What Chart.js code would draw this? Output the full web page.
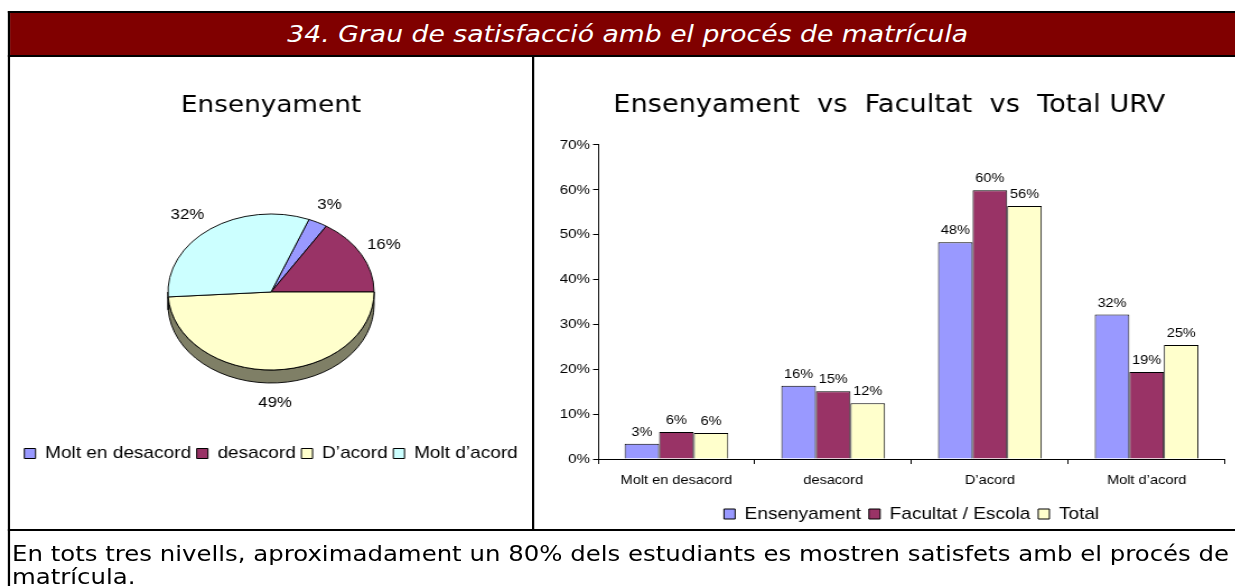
<!DOCTYPE html>
<html>
<head>
<meta charset="utf-8">
<script src="https://cdn.jsdelivr.net/npm/chart.js@4.4.1/dist/chart.umd.min.js"></script>
<style>
  html, body { margin: 0; padding: 0; background: #fff; overflow: hidden; }
  body { width: 1235px; height: 586px; position: relative; }
  /* the original picture is stretched horizontally, so the whole page is too */
  #page { position: absolute; left: 0; top: 0; width: 1103px; height: 586px; transform: scaleX(1.12); transform-origin: 0 0; }
  .line { position: absolute; background: #000; }
  #header { position: absolute; left: 8.9px; top: 13px; width: 1095px; height: 42px; background: #800000; }
  #headerText { position: absolute; left: 7px; width: 1107px; top: 20px; line-height: 42px; text-align: center; color: #fff;
    font: italic 23.8px "DejaVu Sans"; white-space: nowrap; }
  #note { position: absolute; left: 10.7px; top: 542px; font: 21.8px "DejaVu Sans"; line-height: 23px; white-space: nowrap; color: #000; }
  #pieBox { position: absolute; left: 9px; top: 57px; width: 466px; height: 472px; }
  #barBox { position: absolute; left: 477px; top: 57px; width: 626px; height: 490px; }
</style>
</head>
<body>
<div id="page">
  <div id="header"></div>
  <div id="headerText">34. Grau de satisfacció amb el procés de matrícula</div>
  <div class="line" style="left:7.14px; top:11px; width:1096px; height:2px;"></div>
  <div class="line" style="left:7.14px; top:55px; width:1096px; height:2px;"></div>
  <div class="line" style="left:7.14px; top:529px; width:1096px; height:2px;"></div>
  <div class="line" style="left:7.14px; top:11px; width:1.79px; height:575px;"></div>
  <div class="line" style="left:475px; top:57px; width:1.79px; height:473px;"></div>
  <div id="pieBox"><canvas id="pieChart"></canvas></div>
  <div id="barBox"><canvas id="barChart"></canvas></div>
  <div id="note">En tots tres nivells, aproximadament un 80% dels estudiants es mostren satisfets amb el procés de<br>matrícula.</div>
</div>
<script>
const categories = ['Molt en desacord', 'desacord', 'D’acord', 'Molt d’acord'];
const pieValues = [3, 16, 49, 32]; // percent
const seriesNames = ['Ensenyament', 'Facultat / Escola', 'Total'];
const ensenyament = [3.4, 16.3, 48.3, 32.2];
const facultat = [6.0, 15.1, 59.9, 19.4];
const total = [5.8, 12.4, 56.4, 25.4];
const yMax = 70;
const yStep = 10;

const sliceColors = ['#9999FF', '#993366', '#FFFFCC', '#CCFFFF'];
const SQUASH = 78 / 92; // tilt of the pie top
const DEPTH = 13;       // thickness of the pie side, px

Chart.defaults.font.family = 'Liberation Sans';
Chart.defaults.color = '#000';

function shade(hex) {
  const n = parseInt(hex.slice(1), 16);
  const r = (n >> 16) >> 1, g = ((n >> 8) & 255) >> 1, b = (n & 255) >> 1;
  return 'rgb(' + r + ',' + g + ',' + b + ')';
}

// tilts the pie and draws its side, then the percent labels
const pie3d = {
  id: 'pie3d',
  beforeDatasetsDraw(chart) {
    const ctx = chart.ctx;
    const meta = chart.getDatasetMeta(0);
    const cx = meta.data[0].x, cy = meta.data[0].y;
    ctx.save();
    ctx.translate(cx, cy);
    ctx.scale(1, SQUASH);
    ctx.translate(-cx, -cy);
    const d = DEPTH / SQUASH;
    meta.data.forEach((arc, i) => {
      const p = arc.getProps(['startAngle', 'endAngle', 'outerRadius']);
      for (let k = -1; k <= 1; k++) {
        const lo = Math.max(p.startAngle, 2 * Math.PI * k);
        const hi = Math.min(p.endAngle, 2 * Math.PI * k + Math.PI);
        if (hi <= lo) continue;
        ctx.beginPath();
        ctx.arc(cx, cy, p.outerRadius, lo, hi);
        ctx.arc(cx, cy + d, p.outerRadius, hi, lo, true);
        ctx.closePath();
        ctx.fillStyle = shade(sliceColors[i]);
        ctx.fill();
        ctx.lineWidth = 1;
        ctx.strokeStyle = '#000';
        ctx.stroke();
      }
    });
  },
  afterDatasetsDraw(chart) {
    const ctx = chart.ctx;
    ctx.restore();
    const meta = chart.getDatasetMeta(0);
    ctx.save();
    ctx.font = '15px "Liberation Sans"';
    ctx.fillStyle = '#000';
    ctx.textAlign = 'center';
    ctx.textBaseline = 'middle';
    meta.data.forEach((arc, i) => {
      const p = arc.getProps(['x', 'y', 'startAngle', 'endAngle', 'outerRadius']);
      const mid = (p.startAngle + p.endAngle) / 2;
      const c = Math.cos(mid), s = Math.sin(mid);
      const rx = p.outerRadius * (c < 0 ? 1.38 : 1.25);
      const ry = p.outerRadius * (c < 0 ? 1.22 : 1.25);
      const lx = p.x + c * rx;
      const ly = p.y + s * ry * SQUASH + (s > 0 ? DEPTH * s : 0);
      ctx.fillText(pieValues[i] + '%', lx, ly);
    });
    ctx.restore();
  }
};

const barLabels = {
  id: 'barLabels',
  afterDatasetsDraw(chart) {
    const ctx = chart.ctx;
    ctx.save();
    ctx.font = '13px "Liberation Sans"';
    ctx.fillStyle = '#000';
    ctx.textAlign = 'center';
    ctx.textBaseline = 'bottom';
    chart.data.datasets.forEach((ds, i) => {
      chart.getDatasetMeta(i).data.forEach((bar, j) => {
        ctx.fillText(Math.round(ds.data[j]) + '%', bar.x, bar.y - 5);
      });
    });
    ctx.restore();
  }
};

new Chart(document.getElementById('pieChart'), {
  type: 'pie',
  data: {
    labels: categories,
    datasets: [{
      data: pieValues,
      backgroundColor: sliceColors,
      borderColor: '#000',
      borderWidth: 1,
      radius: 92,
      rotation: 21.6,
      clip: false
    }]
  },
  options: {
    responsive: true,
    maintainAspectRatio: false,
    animation: false,
    layout: { padding: { bottom: 57 } },
    plugins: {
      title: {
        display: true,
        text: 'Ensenyament',
        color: '#000',
        font: { family: 'DejaVu Sans', size: 23.5, weight: 'normal' },
        padding: { top: 34.9, bottom: 23.9 }
      },
      legend: {
        position: 'bottom',
        labels: { boxWidth: 10, boxHeight: 10, padding: 5, color: '#000', font: { size: 17 } }
      },
      tooltip: { enabled: false }
    }
  },
  plugins: [pie3d]
});

new Chart(document.getElementById('barChart'), {
  type: 'bar',
  data: {
    labels: categories,
    datasets: [
      { label: seriesNames[0], data: ensenyament, backgroundColor: '#9999FF', borderColor: '#000', borderWidth: 1 },
      { label: seriesNames[1], data: facultat, backgroundColor: '#993366', borderColor: '#000', borderWidth: 1 },
      { label: seriesNames[2], data: total, backgroundColor: '#FFFFCC', borderColor: '#000', borderWidth: 1 }
    ]
  },
  options: {
    responsive: true,
    maintainAspectRatio: false,
    animation: false,
    layout: { padding: { left: 17.25, right: 9.25, top: 0, bottom: 14.5 } },
    datasets: { bar: { categoryPercentage: 0.662, barPercentage: 1 } },
    plugins: {
      title: {
        display: true,
        text: 'Ensenyament  vs  Facultat  vs  Total URV',
        color: '#000',
        font: { family: 'DejaVu Sans', size: 24.3, weight: 'normal' },
        padding: { top: 34.4, bottom: 24.4 }
      },
      legend: {
        position: 'bottom',
        fullSize: false,
        labels: { boxWidth: 10, boxHeight: 10, padding: 7, color: '#000', font: { size: 17 } }
      },
      tooltip: { enabled: false }
    },
    scales: {
      x: {
        grid: { offset: true, drawOnChartArea: false, tickLength: 5, color: '#000' },
        border: { color: '#000' },
        ticks: { color: '#000', font: { size: 13 }, padding: 9, maxRotation: 0 },
        afterFit: s => { s.height = 39.5; }
      },
      y: {
        min: 0,
        max: yMax,
        ticks: { stepSize: yStep, callback: v => v + '%', color: '#000', font: { size: 13.5 }, padding: 2.7 },
        grid: { drawOnChartArea: false, tickLength: 4.5, color: '#000' },
        border: { color: '#000' },
        afterFit: s => { s.width = 39.75; }
      }
    }
  },
  plugins: [barLabels]
});
</script>
</body>
</html>
